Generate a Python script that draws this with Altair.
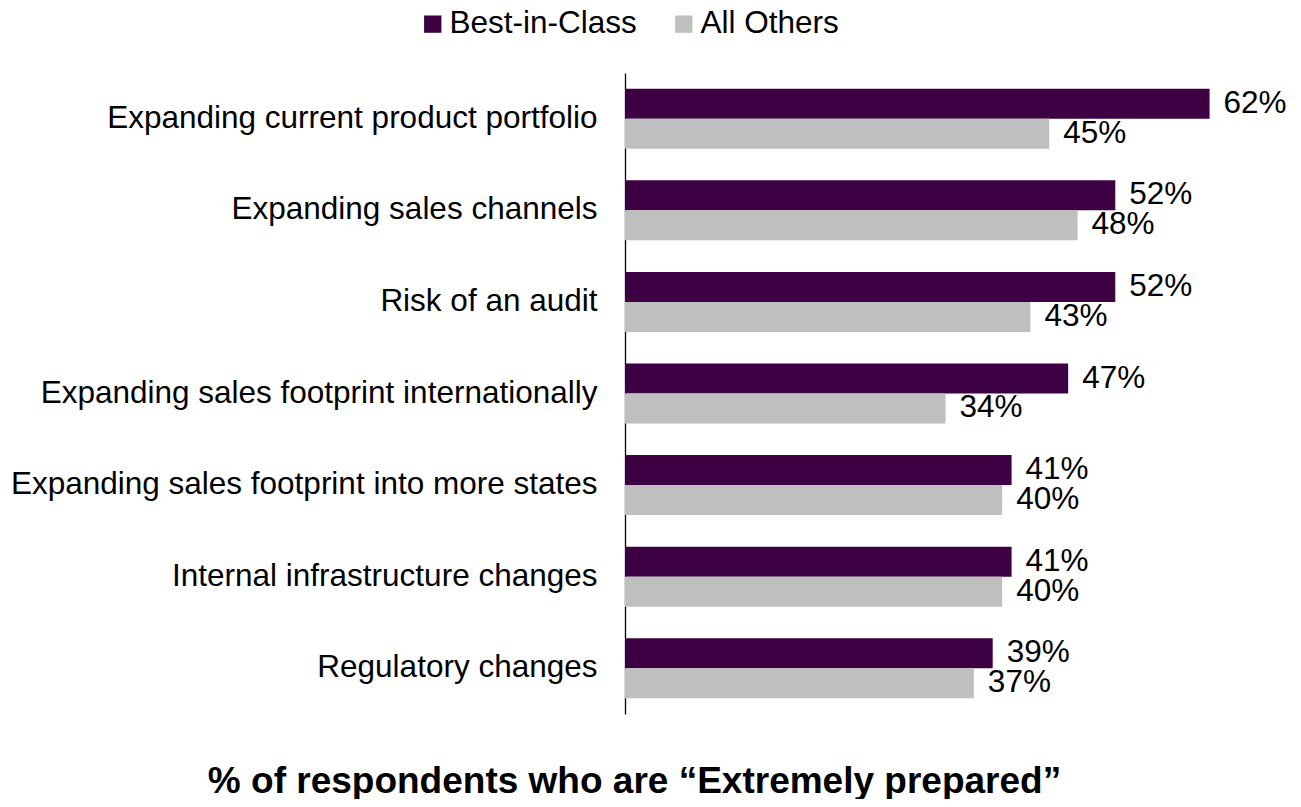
import altair as alt
import pandas as pd

categories = [
    "Expanding current product portfolio",
    "Expanding sales channels",
    "Risk of an audit",
    "Expanding sales footprint internationally",
    "Expanding sales footprint into more states",
    "Internal infrastructure changes",
    "Regulatory changes",
]
best_in_class = [62, 52, 52, 47, 41, 41, 39]
all_others = [45, 48, 43, 34, 40, 40, 37]
series = ["Best-in-Class", "All Others"]
colors = ["#3D0042", "#BFBFBF"]

rows = []
for c, b, o in zip(categories, best_in_class, all_others):
    rows.append({"category": c, "group": series[0], "value": b, "label": f"{b}%"})
    rows.append({"category": c, "group": series[1], "value": o, "label": f"{o}%"})
df = pd.DataFrame(rows)

FONT = "Liberation Sans"
FS = 31.5

y = alt.Y(
    "category:N",
    sort=categories,
    scale=alt.Scale(paddingInner=0.345, paddingOuter=0.1725),
    axis=alt.Axis(
        title=None, domain=True, domainColor="black", domainWidth=1.3,
        ticks=False, labelFontSize=FS, labelFont=FONT, labelColor="black",
        labelPadding=28, labelLimit=900,
    ),
)
yoff = alt.YOffset("group:N", sort=series, scale=alt.Scale(paddingInner=0, paddingOuter=0))
x = alt.X(
    "value:Q",
    scale=alt.Scale(domain=[0, 69]),
    axis=alt.Axis(
        title="% of respondents who are “Extremely prepared”",
        domain=False, ticks=False, labels=False, grid=False,
        titleFontSize=37, titleFont=FONT, titleFontWeight="bold", titleColor="black",
        titleX=9, titleY=78, titleAlign="center", titleBaseline="alphabetic",
    ),
)
color = alt.Color(
    "group:N",
    sort=series,
    scale=alt.Scale(domain=series, range=colors),
    legend=alt.Legend(
        title=None, orient="none", direction="horizontal",
        legendX=-208, legendY=-65, symbolType="square", symbolSize=300,
        symbolStrokeWidth=0, labelFontSize=FS, labelFont=FONT, labelColor="black",
        labelOffset=1, columnPadding=31, padding=0, symbolOpacity=1, labelLimit=400,
    ),
)

bars = alt.Chart(df).mark_bar().encode(x=x, y=y, yOffset=yoff, color=color)
text = alt.Chart(df).mark_text(
    align="left", baseline="middle", dx=14, fontSize=FS, font=FONT, color="black"
).encode(x=alt.X("value:Q"), y=alt.Y("category:N", sort=categories), yOffset=yoff, text="label:N")

chart = (
    alt.layer(bars, text)
    .properties(
        width=660, height=641,
        autosize=alt.AutoSizeParams(type="none"),
        padding={"left": 617, "top": 65, "right": 8, "bottom": 85},
    )
    .configure_view(stroke=None)
)

chart.save("out.html", embed_options={"renderer": "svg", "actions": False})
